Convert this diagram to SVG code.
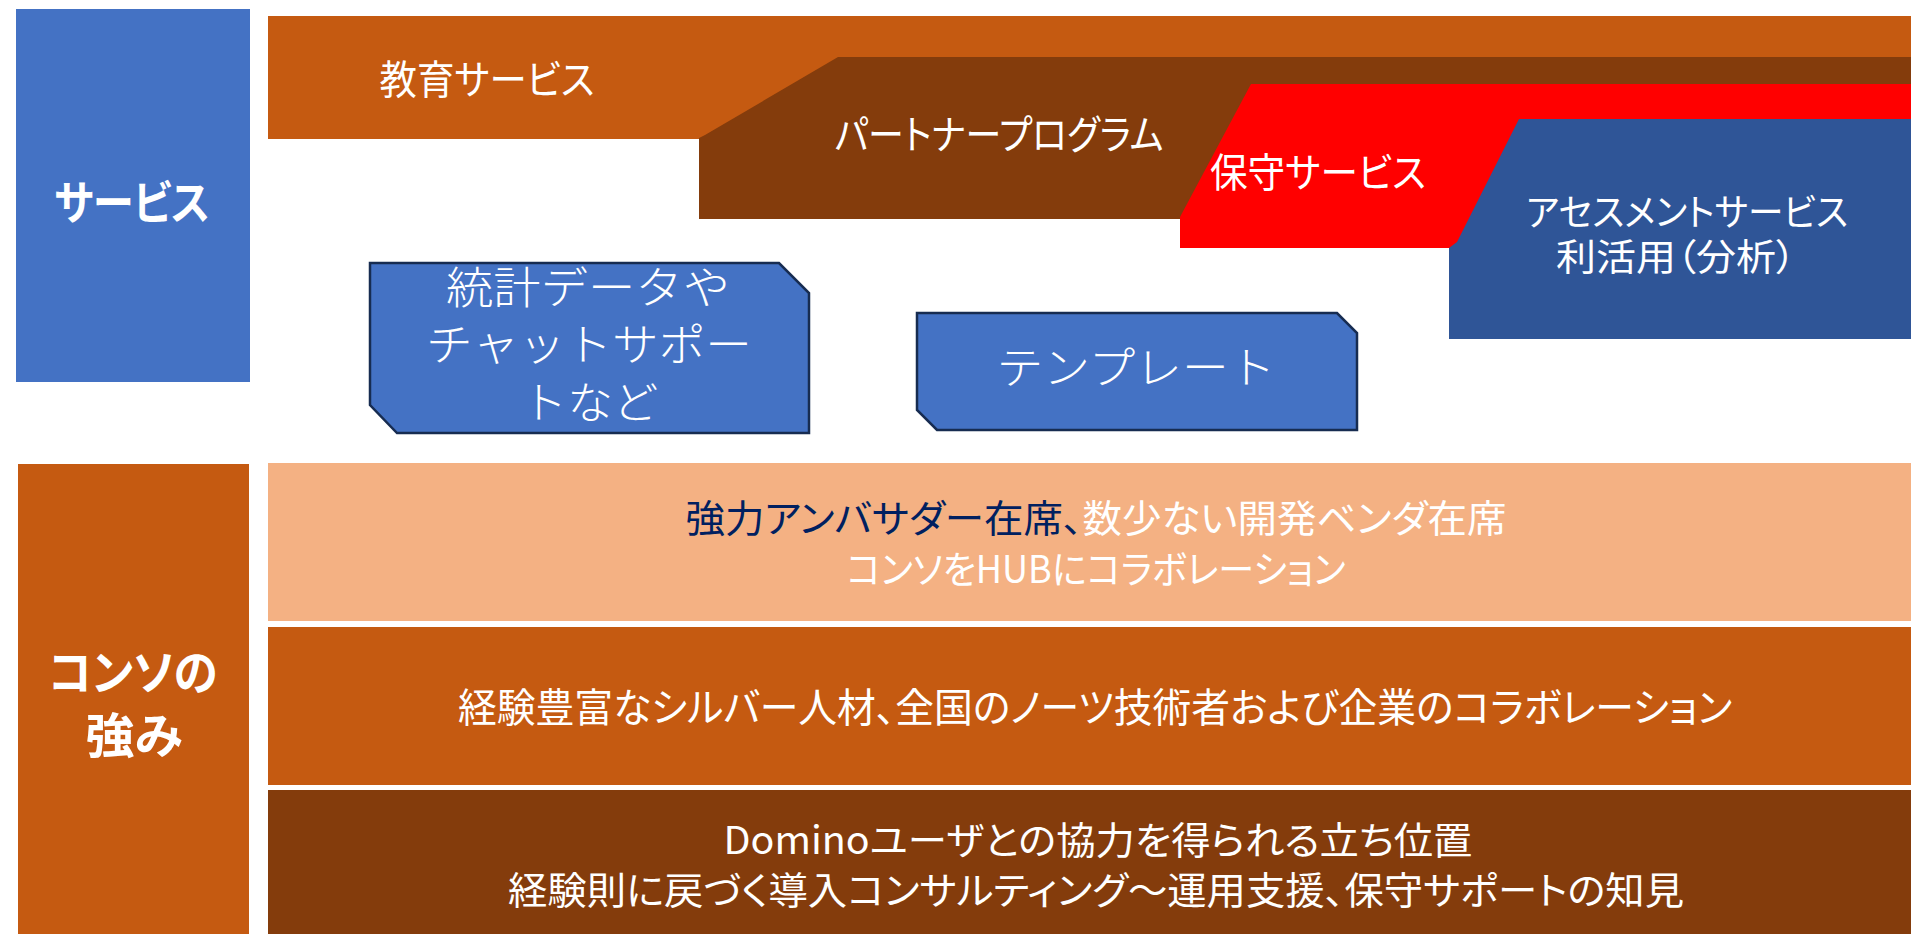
<svg xmlns="http://www.w3.org/2000/svg" width="1911" height="934" viewBox="0 0 1911 934">
<style>
.t{font-family:"Noto Sans CJK JP","Noto Sans",sans-serif;fill:#fff;text-anchor:middle;font-feature-settings:"palt" 1}
.b{font-weight:700}
.l{font-weight:300;font-feature-settings:normal}
.snip{fill:#4472C4;stroke:#172C51;stroke-width:2.5}
.navy{fill:#002060}
</style>
<rect width="1911" height="934" fill="#fff"/>
<g id="service-label">
<rect x="16" y="9" width="234" height="373" fill="#4472C4"/>
<text class="t b" x="132" y="219" font-size="46" textLength="156" lengthAdjust="spacingAndGlyphs">サービス</text>
</g>
<g id="education">
<rect x="268" y="16" width="1643" height="123" fill="#C55A11"/>
<text class="t" x="487" y="94" font-size="40" textLength="215" lengthAdjust="spacingAndGlyphs">教育サービス</text>
</g>
<g id="partner">
<polygon points="838,57 1911,57 1911,219 699,219 699,138 705,135" fill="#843C0C"/>
<text class="t" x="999" y="149" font-size="40" textLength="329" lengthAdjust="spacingAndGlyphs">パートナープログラム</text>
</g>
<g id="maintenance">
<polygon points="1251,84 1911,84 1911,248 1180,248 1180,217" fill="#FF0000"/>
<text class="t" x="1318" y="187" font-size="40" textLength="216" lengthAdjust="spacingAndGlyphs">保守サービス</text>
</g>
<g id="assessment">
<polygon points="1519,119 1911,119 1911,339 1449,339 1449,248 1457,242" fill="#2F5597"/>
<text class="t" x="1687" y="226" font-size="37" textLength="322" lengthAdjust="spacingAndGlyphs">アセスメントサービス</text>
<text class="t" x="1676" y="271" font-size="37" textLength="240" lengthAdjust="spacingAndGlyphs">利活用（分析）</text>
</g>
<g id="stats">
<polygon class="snip" points="370,263 779,263 809,293 809,433 397,433 370,405"/>
<text class="t l" x="588" y="304" font-size="44" textLength="284" lengthAdjust="spacingAndGlyphs">統計データや</text>
<text class="t l" x="589" y="361" font-size="44" textLength="326" lengthAdjust="spacingAndGlyphs">チャットサポー</text>
<text class="t l" x="590" y="419" font-size="44" textLength="137" lengthAdjust="spacingAndGlyphs">トなど</text>
</g>
<g id="template">
<polygon class="snip" points="917,313 1337,313 1357,333 1357,430 937,430 917,410"/>
<text class="t l" x="1136" y="384" font-size="44" textLength="279" lengthAdjust="spacingAndGlyphs">テンプレート</text>
</g>
<g id="strength-label">
<rect x="18" y="464" width="231" height="470" fill="#C55A11"/>
<text class="t b" x="133" y="690" font-size="48" textLength="169" lengthAdjust="spacingAndGlyphs">コンソの</text>
<text class="t b" x="134" y="753" font-size="48" textLength="97" lengthAdjust="spacingAndGlyphs">強み</text>
</g>
<g id="strength-1">
<rect x="268" y="463" width="1643" height="158" fill="#F4B183"/>
<text class="t" x="1096" y="532" font-size="38" textLength="821" lengthAdjust="spacingAndGlyphs"><tspan class="navy">強力アンバサダー在席、</tspan>数少ない開発ベンダ在席</text>
<text class="t" x="1096" y="583" font-size="38" textLength="499" lengthAdjust="spacingAndGlyphs">コンソをHUBにコラボレーション</text>
</g>
<g id="strength-2">
<rect x="268" y="627" width="1643" height="158" fill="#C55A11"/>
<text class="t" x="1095" y="722" font-size="40" textLength="1274" lengthAdjust="spacingAndGlyphs">経験豊富なシルバー人材、全国のノーツ技術者および企業のコラボレーション</text>
</g>
<g id="strength-3">
<rect x="268" y="790" width="1643" height="144" fill="#843C0C"/>
<text class="t" x="1098" y="854" font-size="38" textLength="749" lengthAdjust="spacingAndGlyphs">Dominoユーザとの協力を得られる立ち位置</text>
<text class="t" x="1096" y="904" font-size="38" textLength="1176" lengthAdjust="spacingAndGlyphs">経験則に戻づく導入コンサルティング～運用支援、保守サポートの知見</text>
</g>
<g id="connectors"></g>
</svg>
